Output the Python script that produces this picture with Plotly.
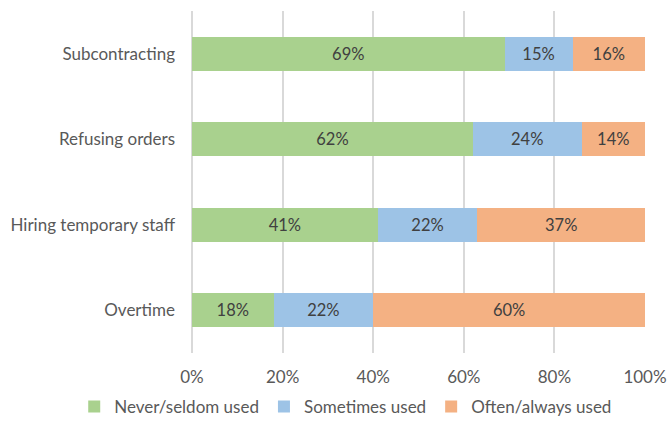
import plotly.graph_objects as go

categories = ["Overtime", "Hiring temporary staff", "Refusing orders", "Subcontracting"]
never_seldom = [18, 41, 62, 69]
sometimes = [22, 22, 24, 15]
often_always = [60, 37, 14, 16]
series_names = ["Never/seldom used", "Sometimes used", "Often/always used"]
colors = ["#A9D18E", "#9DC3E6", "#F4B183"]
tick_vals = [0, 20, 40, 60, 80, 100]
tick_text = ["0%", "20%", "40%", "60%", "80%", "100%"]

FONT = "Lato, 'Open Sans', sans-serif"
FS = 17

fig = go.Figure()
for name, vals, col in zip(series_names, [never_seldom, sometimes, often_always], colors):
    fig.add_trace(go.Bar(
        y=categories, x=vals, name=name, orientation="h",
        marker=dict(color=col, line=dict(width=0)),
        text=[f"{v}%" for v in vals], textposition="inside",
        insidetextanchor="middle",
        textfont=dict(family=FONT, size=16.5, color="#404040"),
        hoverinfo="skip",
    ))

fig.update_layout(
    barmode="stack",
    bargap=0.6,
    width=667, height=430,
    margin=dict(l=192, r=22, t=11, b=77, autoexpand=False),
    paper_bgcolor="white", plot_bgcolor="white",
    font=dict(family=FONT, size=FS, color="#595959"),
    uniformtext=dict(mode=False),
    legend=dict(orientation="h", x=-0.26, xanchor="left", y=-0.158, yanchor="middle",
                font=dict(family=FONT, size=FS, color="#595959"),
                traceorder="normal", itemwidth=30, tracegroupgap=0),
    xaxis=dict(range=[0, 100], tickvals=tick_vals, ticktext=tick_text,
               showgrid=True, gridcolor="#D9D9D9", gridwidth=1.5,
               zeroline=True, zerolinecolor="#D9D9D9", zerolinewidth=1.5,
               showline=False, ticks="", ticklen=0,
               automargin=False, ticklabelstandoff=12,
               tickfont=dict(family=FONT, size=FS, color="#595959")),
    yaxis=dict(showgrid=False, zeroline=False, showline=False, ticks="",
               automargin=False, ticklabelstandoff=16,
               tickfont=dict(family=FONT, size=FS, color="#595959")),
)

fig.write_html("out.html", config={"displayModeBar": False},
               post_script="document.body.style.margin='0';")
